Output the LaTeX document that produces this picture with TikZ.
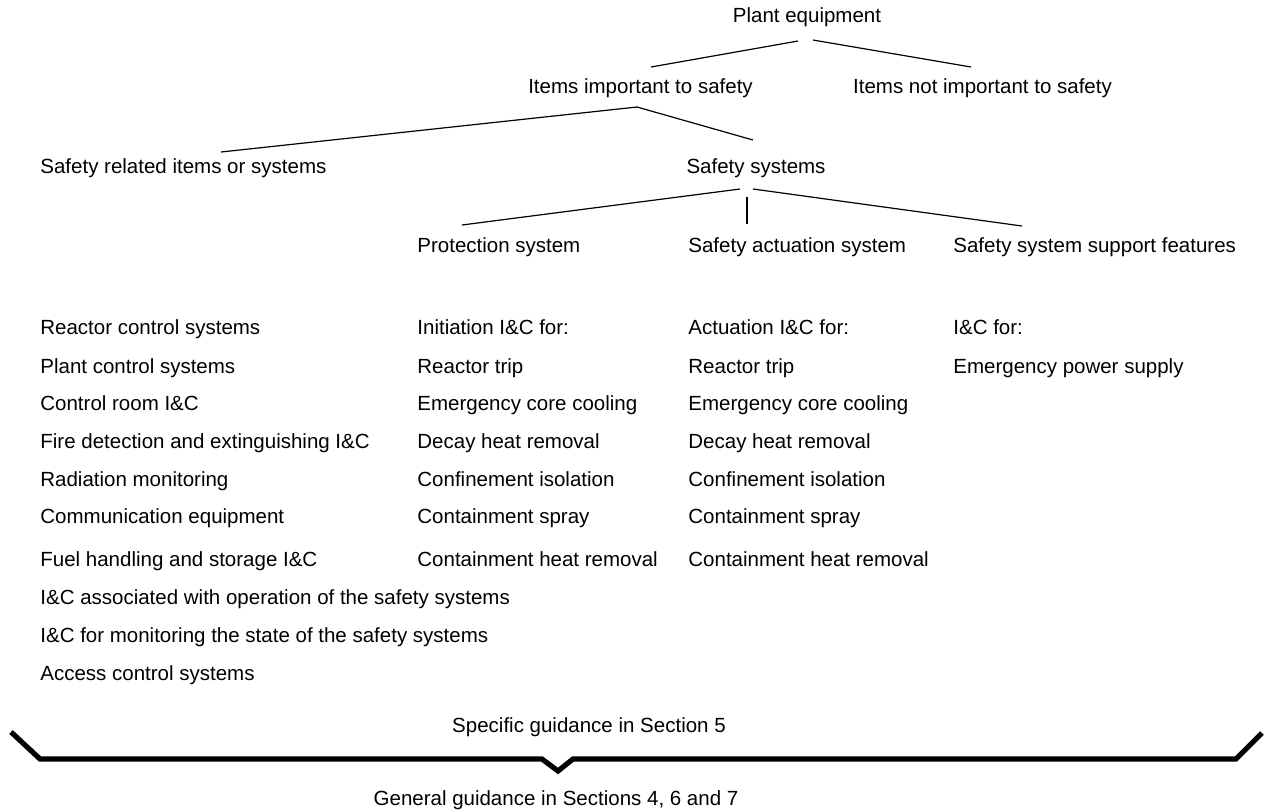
\documentclass[tikz,border=0pt]{standalone}
\usepackage{fontspec}
\setmainfont{Liberation Sans}
\usetikzlibrary{calc}

\begin{document}
\begin{tikzpicture}[x=0.5pt,y=-0.5pt,
  every node/.style={inner sep=0pt,font=\fontsize{10.25}{12}\selectfont},
  head/.style={anchor=base},
  item/.style={anchor=base west},
  branch/.style={line width=0.6pt},
  brace/.style={line width=2.6pt}]
 \useasboundingbox (0,0) rectangle (1265,811);
% tree
\node (pe) [head] at (807,22.5) {Plant equipment};
\node (iit) [head] at (640.5,93) {Items important to safety};
\node (nit) [head] at (982.5,93) {Items not important to safety};
\node (sri) [item] at (40,173) {Safety related items or systems};
\node (ss) [head] at (756,173) {Safety systems};
\node (ps) [item] at (417,252) {Protection system};
\node (sas) [item] at (688,252) {Safety actuation system};
\node (sss) [item] at (953,252) {Safety system support features};
\draw[branch] ($(pe.base)+(-9,18.5)$) -- ($(iit.base)+(10.5,-26)$);
\draw[branch] ($(pe.base)+(6,17.5)$) -- ($(nit.base)+(-11.5,-26)$);
\draw[branch] ($(iit.base)+(-3.5,14)$) -- ($(sri.base west)+(181,-21)$);
\draw[branch] ($(iit.base)+(-3.5,14)$) -- ($(ss.base)+(-3,-33)$);
\draw[branch] ($(ss.base)+(-16,16)$) -- ($(ps.base west)+(45,-27)$);
\draw[branch] ($(ss.base)+(-9,24)$) -- ($(sas.base west)+(59,-28)$);
\draw[branch] ($(ss.base)+(-3,16)$) -- ($(sss.base west)+(69,-26)$);
% lists
\node (a1) [item] at (40,334) {Reactor control systems};
\node (a2) [item] at (40,373) {Plant control systems};
\node (a3) [item] at (40,410) {Control room I\&C};
\node (a4) [item] at (40,448) {Fire detection and extinguishing I\&C};
\node (a5) [item] at (40,486) {Radiation monitoring};
\node (a6) [item] at (40,523) {Communication equipment};
\node (a7) [item] at (40,566) {Fuel handling and storage I\&C};
\node (a8) [item] at (40,604) {I\&C associated with operation of the safety systems};
\node (a9) [item] at (40,642) {I\&C for monitoring the state of the safety systems};
\node (a10) [item] at (40,680) {Access control systems};
\node (b1) [item] at (417,334) {Initiation I\&C for:};
\node (b2) [item] at (417,373) {Reactor trip};
\node (b3) [item] at (417,410) {Emergency core cooling};
\node (b4) [item] at (417,448) {Decay heat removal};
\node (b5) [item] at (417,486) {Confinement isolation};
\node (b6) [item] at (417,523) {Containment spray};
\node (b7) [item] at (417,566) {Containment heat removal};
\node (c1) [item] at (688,334) {Actuation I\&C for:};
\node (c2) [item] at (688,373) {Reactor trip};
\node (c3) [item] at (688,410) {Emergency core cooling};
\node (c4) [item] at (688,448) {Decay heat removal};
\node (c5) [item] at (688,486) {Confinement isolation};
\node (c6) [item] at (688,523) {Containment spray};
\node (c7) [item] at (688,566) {Containment heat removal};
\node (d1) [item] at (953,334) {I\&C for:};
\node (d2) [item] at (953,373) {Emergency power supply};
% guidance
\node (spec) [head] at (589,732) {Specific guidance in Section 5};
\node (gen) [head] at (556,805) {General guidance in Sections 4, 6 and 7};
\draw[brace] (11,732) -- (40,759) -- (542,759) -- (558,771) -- (573,759)
  -- (1236,759) -- (1262,733);
\end{tikzpicture}
\end{document}
